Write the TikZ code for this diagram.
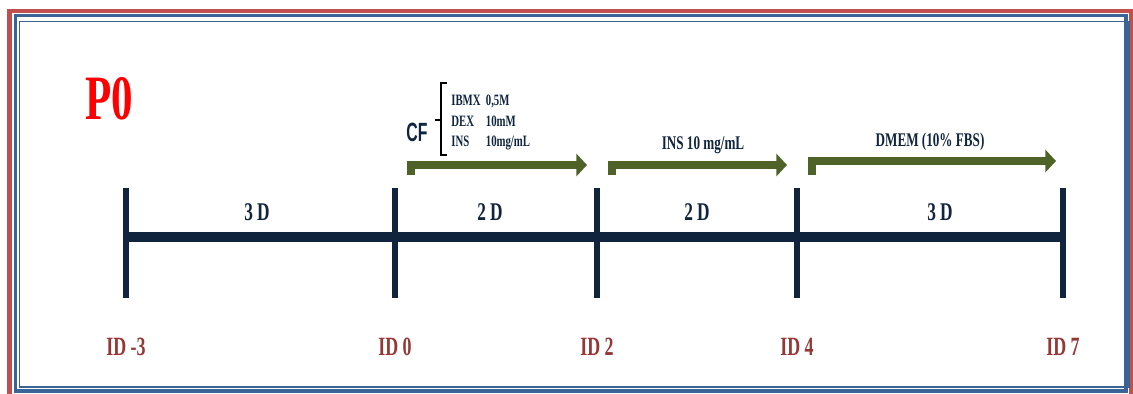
\documentclass[tikz,border=0pt]{standalone}
\usepackage{fontspec}
\setmainfont{Liberation Serif}
\newfontfamily\etroite[FakeStretch=0.68]{Liberation Serif}
\newfontfamily\etroitesans[FakeStretch=0.6]{Liberation Sans}
\usetikzlibrary{arrows.meta}
\definecolor{axe}{HTML}{10243E}
\definecolor{olive}{HTML}{4F6228}
\definecolor{brique}{HTML}{953735}
\definecolor{cadrerouge}{HTML}{C0504D}
\definecolor{cadrebleu}{HTML}{3A6496}

\begin{document}
\begin{tikzpicture}[
  x=0.02cm, y=-0.02cm,
  barre/.style={draw=axe, line width=5.6pt},
  tige/.style={draw=axe, line width=3.4pt},
  duree/.style={font=\etroite\bfseries\fontsize{14.5}{14.5}\selectfont, text=axe, inner sep=0pt},
  jour/.style={font=\etroite\bfseries\fontsize{15}{15}\selectfont, text=brique, inner sep=0pt},
  milieu/.style={font=\etroite\bfseries\fontsize{11}{11}\selectfont, text=axe, inner sep=0pt},
  fleche/.style={draw=olive, line width=5pt, -{Triangle[length=6pt, width=12.5pt]}},
]
\useasboundingbox (0,0) rectangle (1133,394);
% le cadre
\draw[cadrerouge, line width=2.8pt] (9.5,11) rectangle (1131.5,420);
\draw[cadrebleu, line width=1.8pt] (15.5,15.5) rectangle (1126,391);
\draw[cadrebleu, line width=1pt] (19.5,21.5) rectangle (1129,387);
% le titre
\node[font=\etroite\bfseries\fontsize{36}{36}\selectfont, text=red, inner sep=0pt]
  (titre) at (109,99) {P0};
% l'axe et les jalons
\foreach \x/\n/\lab in {126/0/-3, 395/1/0, 597/2/2, 797/3/4, 1063/4/7} {
  \coordinate (j\n) at (\x,237);
  \draw[tige] (\x,188) -- (\x,298);
  \node[jour] (id\n) at (\x,347) {ID \lab};
}
\draw[barre] (j0) -- (j4);
% les durées
\node[duree] (d1) at (257,212) {3 D};
\node[duree] (d2) at (490,212) {2 D};
\node[duree] (d3) at (697,212) {2 D};
\node[duree] (d4) at (940,212) {3 D};
% les milieux
\coordinate (a1) at (411,175);
\coordinate (b1) at (587,165);
\coordinate (a2) at (612,175);
\coordinate (b2) at (787,165);
\coordinate (a3) at (812,175);
\coordinate (b3) at (1056,161);
\draw[fleche] (a1) |- (b1);
\draw[fleche] (a2) |- (b2);
\draw[fleche] (a3) |- (b3);
\node[milieu] (m2) at (703,145) {INS 10 mg/mL};
\node[milieu] (m3) at (930,142) {DMEM (10\% FBS)};
% le cocktail CF
\node[font=\etroitesans\bfseries\fontsize{15}{15}\selectfont, text=axe, inner sep=0pt]
  (cf) at (417,132) {CF};
\draw[black, line width=1.3pt] (447,83) -- (441,83) -- (441,155) -- (447,155)
  (441,120) -- (435,120);
\node[anchor=west, font=\etroite\bfseries\fontsize{9}{11.5}\selectfont, text=axe, inner sep=0pt]
  (cocktail) at (451,122)
  {\begin{tabular}{@{}l@{\hspace{3pt}}l@{}}
   IBMX & 0,5M\\ DEX & 10mM\\ INS & 10mg/mL
   \end{tabular}};
\end{tikzpicture}
\end{document}
